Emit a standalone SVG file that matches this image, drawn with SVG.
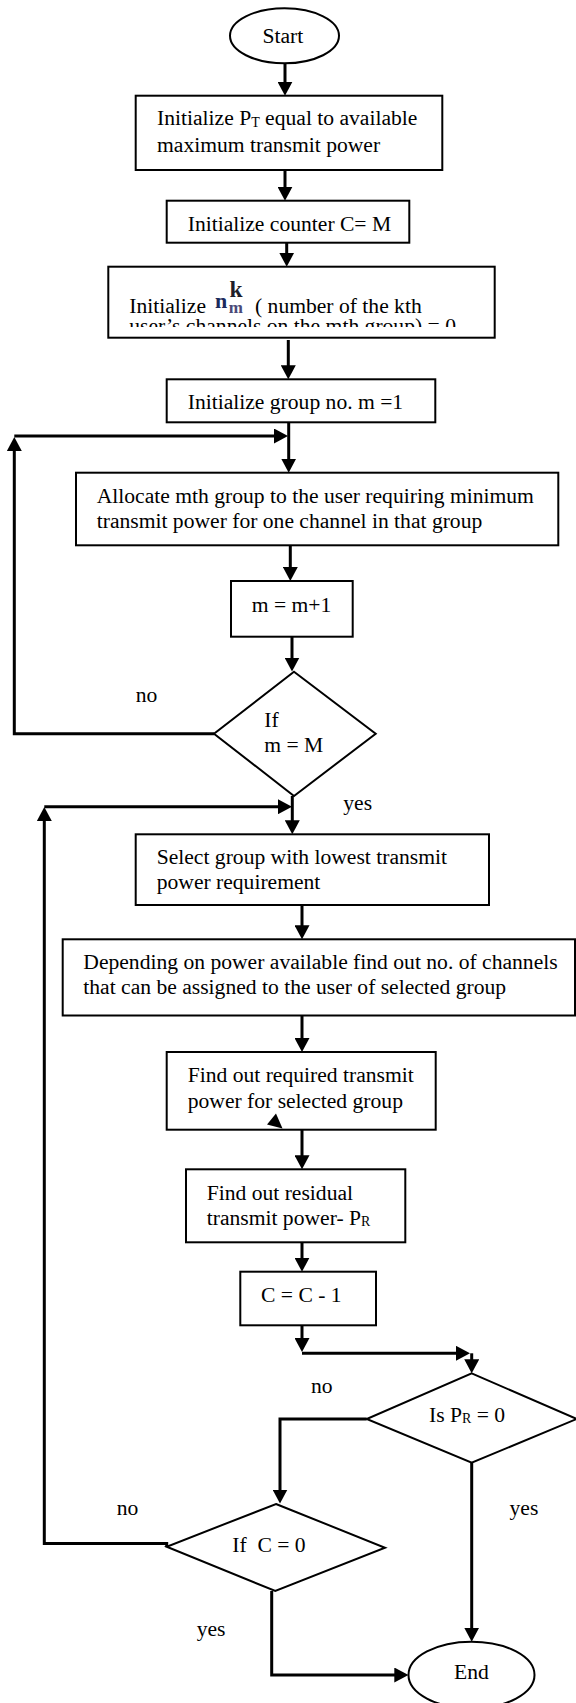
<svg xmlns="http://www.w3.org/2000/svg" width="576" height="1703" viewBox="0 0 576 1703">
  <style>
    .box { fill: #fff; stroke: #000; stroke-width: 2; }
    .term { fill: #fff; stroke: #000; stroke-width: 2; }
    .dec { fill: #fff; stroke: #000; stroke-width: 2; stroke-linejoin: miter; }
    .t { font-family: "Liberation Serif", "Times New Roman", serif; font-size: 21.6px; fill: #000; }
    .sub { font-size: 14px; }
    .wire { fill: none; stroke: #000; stroke-width: 3; stroke-linejoin: miter; marker-end: url(#arrow); }
    .eq { font-weight: bold; }
  </style>
  <defs>
    <marker id="arrow" viewBox="0 0 14 15" refX="8" refY="7.5" markerWidth="14" markerHeight="15" markerUnits="userSpaceOnUse" orient="auto">
      <path d="M0,0 L14,7.5 L0,15 Z" fill="#000"/>
    </marker>
    <clipPath id="clip-n3">
      <rect x="108.3" y="266.7" width="386.4" height="60.3"/>
    </clipPath>
  </defs>
  <rect width="576" height="1703" fill="#fff"/>

  <!-- connectors -->
  <g id="connectors">
    <path class="wire" d="M285 63 V89.7"/>
    <path class="wire" d="M285 170 V194.7"/>
    <path class="wire" d="M286.7 242.7 V260.7"/>
    <path class="wire" d="M288.3 340 V373.3"/>
    <path class="wire" d="M288.7 422.3 V466.7"/>
    <path class="wire" d="M14.3 436 H282"/>
    <path class="wire" d="M214 733.7 H14.3 V443"/>
    <path class="wire" d="M290.3 545.3 V575"/>
    <path class="wire" d="M292 636.7 V665.5"/>
    <path class="wire" d="M292.3 796 V828.3"/>
    <path class="wire" d="M44.3 806.7 H286"/>
    <path class="wire" d="M166.7 1547 V1543.5 H44.3 V813"/>
    <path class="wire" d="M302 905 V933.3"/>
    <path class="wire" d="M302 1015.5 V1046"/>
    <path class="wire" d="M302 1129.7 V1163.3"/>
    <path class="wire" d="M302 1242.3 V1265.7"/>
    <path class="wire" d="M302 1325.3 V1346"/>
    <path class="wire" d="M302 1353.3 H464"/>
    <path class="wire" d="M471.7 1353.3 V1367.3"/>
    <path class="wire" d="M366.7 1419 H280 V1497.5"/>
    <path class="wire" d="M471.7 1462.7 V1635.7"/>
    <path class="wire" d="M271.7 1591 V1675 H402.3"/>
  </g>

  <!-- start -->
  <g id="start">
    <ellipse class="term" cx="284.5" cy="35.8" rx="54.5" ry="27.5"/>
    <text class="t" x="262.5" y="43.3">Start</text>
  </g>

  <g id="init-power">
    <rect class="box" x="135.7" y="95.7" width="306.6" height="74.3"/>
    <text class="t" x="157" y="125">Initialize P<tspan class="sub" dy="2">T</tspan><tspan dy="-2"> equal to available</tspan></text>
    <text class="t" x="157" y="151.7">maximum transmit power</text>
  </g>

  <g id="init-counter">
    <rect class="box" x="166.7" y="200.7" width="242.6" height="42"/>
    <text class="t" x="187.7" y="231">Initialize counter C= M</text>
  </g>

  <g id="init-channels">
    <rect class="box" x="108.3" y="266.7" width="386.4" height="71"/>
    <!-- text box content is cut off at the frame, as in a fixed-height text box -->
    <g clip-path="url(#clip-n3)">
      <text class="t"><tspan x="129.3" y="313.3">Initialize</tspan><tspan class="eq" x="215" y="307.5" font-size="22" fill="#1b2a5c">n</tspan><tspan class="eq" x="229.5" y="296.7" font-size="23.5" fill="#1e1e2a">k</tspan><tspan class="eq" x="228.8" y="312.7" font-size="17" fill="#4a4a78">m</tspan><tspan x="255" y="313.3">( number of the kth</tspan><tspan x="129.3" y="333">user’s channels on the mth group) = 0</tspan></text>
    </g>
  </g>

  <g id="init-group">
    <rect class="box" x="166.7" y="379.3" width="268.6" height="43"/>
    <text class="t" x="187.7" y="409.3">Initialize group no. m =1</text>
  </g>

  <g id="allocate">
    <rect class="box" x="76" y="472.7" width="482.3" height="72.6"/>
    <text class="t" x="96.7" y="502.7">Allocate mth group to the user requiring minimum</text>
    <text class="t" x="96.7" y="527.7">transmit power for one channel in that group</text>
  </g>

  <g id="increment">
    <rect class="box" x="231" y="581" width="121.7" height="55.7"/>
    <text class="t" x="251.7" y="611.7">m = m+1</text>
  </g>

  <g id="check-m">
    <polygon class="dec" points="294,671.7 375.7,733.7 294,796 214,733.7"/>
    <text class="t" x="264.3" y="726.7">If</text>
    <text class="t" x="264.3" y="752.3">m = M</text>
  </g>

  <g id="labels">
    <text class="t" x="135.7" y="702.3">no</text>
    <text class="t" x="343.3" y="810">yes</text>
    <text class="t" x="311" y="1393.3">no</text>
    <text class="t" x="116.7" y="1515">no</text>
    <text class="t" x="509.5" y="1515">yes</text>
    <text class="t" x="196.7" y="1636">yes</text>
  </g>

  <g id="select-group">
    <rect class="box" x="135.7" y="834.3" width="353.3" height="70.7"/>
    <text class="t" x="156.7" y="864">Select group with lowest transmit</text>
    <text class="t" x="156.7" y="889.3">power requirement</text>
  </g>

  <g id="find-channels">
    <rect class="box" x="62.7" y="939.3" width="512.3" height="76.2"/>
    <text class="t" x="83.3" y="969.3">Depending on power available find out no. of channels</text>
    <text class="t" x="83.3" y="994.3">that can be assigned to the user of selected group</text>
  </g>

  <g id="required-power">
    <rect class="box" x="166.7" y="1052" width="269" height="77.7"/>
    <text class="t" x="187.7" y="1081.7">Find out required transmit</text>
    <text class="t" x="187.7" y="1107.7">power for selected group</text>
    <polygon points="276,1113.5 267,1124.5 282.5,1128.5" fill="#000"/>
  </g>

  <g id="residual-power">
    <rect class="box" x="186" y="1169.3" width="219.3" height="73"/>
    <text class="t" x="206.7" y="1200">Find out residual</text>
    <text class="t" x="206.7" y="1225">transmit power- P<tspan class="sub" dy="1">R</tspan></text>
  </g>

  <g id="decrement">
    <rect class="box" x="240.3" y="1271.7" width="135.7" height="53.6"/>
    <text class="t" x="261" y="1301.7">C = C - 1</text>
  </g>

  <g id="check-residual">
    <polygon class="dec" points="471.7,1373.3 576.7,1419 471.7,1462.7 366.7,1419"/>
    <text class="t" x="429" y="1421.7">Is P<tspan class="sub" dy="1">R</tspan><tspan dy="-1"> = 0</tspan></text>
  </g>

  <g id="check-counter">
    <polygon class="dec" points="276,1504 385,1547.7 275.3,1591 166.7,1546.7"/>
    <text class="t" x="232.3" y="1551.7" xml:space="preserve">If  C = 0</text>
  </g>

  <g id="end">
    <ellipse class="term" cx="471.5" cy="1675" rx="63" ry="33.3"/>
    <text class="t" x="454" y="1679">End</text>
  </g>
</svg>
